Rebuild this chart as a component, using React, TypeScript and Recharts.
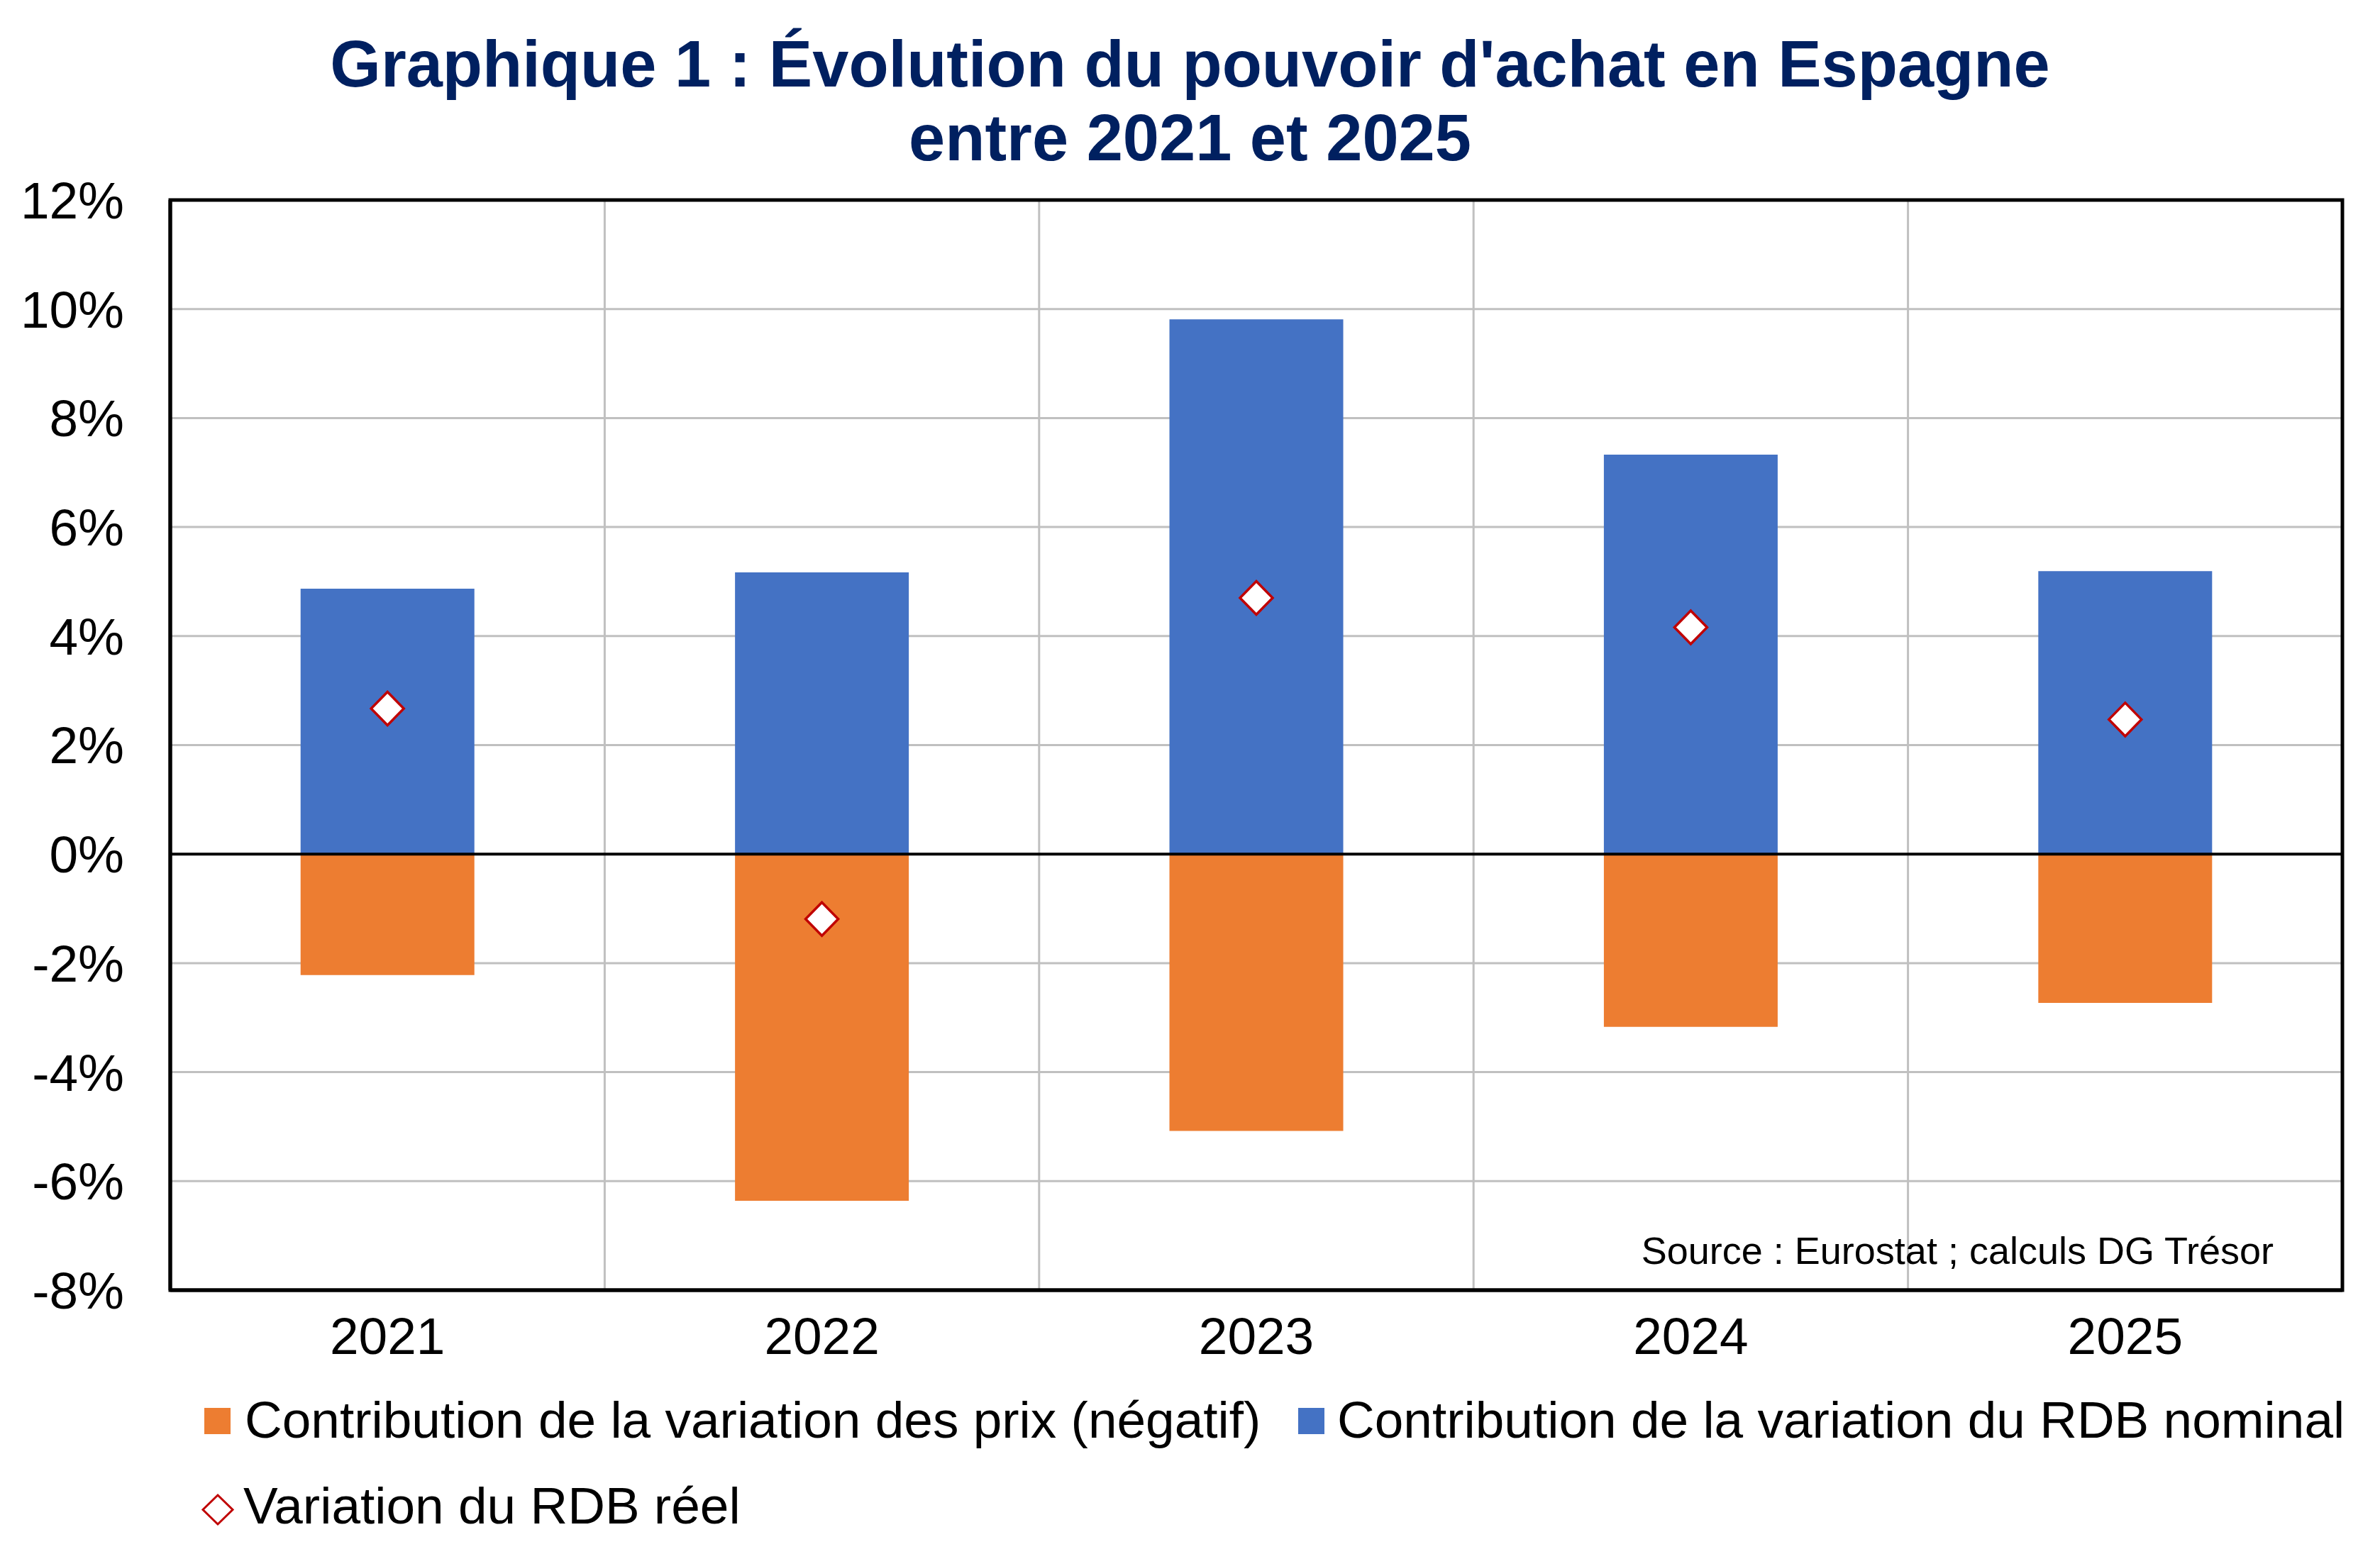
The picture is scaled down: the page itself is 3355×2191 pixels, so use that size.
import React from 'react';
import * as Recharts from 'recharts';
import {
  ComposedChart,
  Bar,
  Line,
  XAxis,
  YAxis,
  CartesianGrid,
  ReferenceLine,
} from 'recharts';

// Données (en %)
const years = ['2021', '2022', '2023', '2024', '2025'];
const prixContribution = [-2.22, -6.36, -5.08, -3.17, -2.73];
const rdbNominalContribution = [4.87, 5.17, 9.81, 7.33, 5.19];
const rdbReelVariation = [2.67, -1.19, 4.7, 4.16, 2.47];
const yTicks = [-8, -6, -4, -2, 0, 2, 4, 6, 8, 10, 12];

const titleLines = [
  "Graphique 1 : Évolution du pouvoir d'achat en Espagne",
  'entre 2021 et 2025',
];
const sourceText = 'Source : Eurostat ; calculs DG Trésor';
const legendLabels = {
  prix: 'Contribution de la variation des prix (négatif)',
  nominal: 'Contribution de la variation du RDB nominal',
  reel: 'Variation du RDB réel',
};

const COLORS = {
  prix: '#ED7D31',
  nominal: '#4472C4',
  diamondStroke: '#C00000',
  title: '#002060',
  grid: '#C0C0C0',
};

const FONT = "'Liberation Sans', Arial, sans-serif";
const W = 3355;
const H = 2191;

const data = years.map((year, i) => ({
  year,
  prix: prixContribution[i],
  nominal: rdbNominalContribution[i],
  reel: rdbReelVariation[i],
}));

// Hook giving the plot area rectangle (x, y, width, height)
const usePlotRect: () => any =
  (Recharts as any).usePlotArea ??
  (() => {
    const off = (Recharts as any).useOffset ? (Recharts as any).useOffset() : null;
    if (!off) return null;
    return { x: off.left, y: off.top, width: W - off.left - off.right, height: H - off.top - off.bottom };
  });

// Black frame around the plotting area
const PlotFrame = () => {
  const area = usePlotRect();
  if (!area) return null;
  return (
    <rect
      x={area.x}
      y={area.y}
      width={area.width}
      height={area.height}
      fill="none"
      stroke="#000"
      strokeWidth={5}
    />
  );
};

const Diamond = (props: any) => {
  const { cx, cy } = props;
  if (cx == null || cy == null) return null;
  const hw = 23;
  const hh = 23.5;
  return (
    <polygon
      points={`${cx},${cy - hh} ${cx + hw},${cy} ${cx},${cy + hh} ${cx - hw},${cy}`}
      fill="#FFFFFF"
      stroke={COLORS.diamondStroke}
      strokeWidth={3.5}
    />
  );
};

const Overlay = () => (
  <svg
    width={W}
    height={H}
    style={{ position: 'absolute', left: 0, top: 0, pointerEvents: 'none' }}
    fontFamily={FONT}
  >
    {/* Titre */}
    <text x={W / 2} y={122} textAnchor="middle" fontSize={92} fontWeight="bold" fill={COLORS.title}>
      {titleLines[0]}
    </text>
    <text x={W / 2} y={226} textAnchor="middle" fontSize={92} fontWeight="bold" fill={COLORS.title}>
      {titleLines[1]}
    </text>

    {/* Source */}
    <text x={3205} y={1782} textAnchor="end" fontSize={54} fill="#000">
      {sourceText}
    </text>

    {/* Légende */}
    <rect x={288} y={1985} width={37} height={37} fill={COLORS.prix} />
    <text x={345} y={2027} fontSize={73} fill="#000">
      {legendLabels.prix}
    </text>
    <rect x={1830} y={1985} width={37} height={37} fill={COLORS.nominal} />
    <text x={1885} y={2027} fontSize={73} fill="#000">
      {legendLabels.nominal}
    </text>
    <polygon
      points="307,2108 328,2128.5 307,2149 286,2128.5"
      fill="#FFFFFF"
      stroke={COLORS.diamondStroke}
      strokeWidth={3}
    />
    <text x={343} y={2148} fontSize={73} fill="#000">
      {legendLabels.reel}
    </text>
  </svg>
);

export default function App() {
  return (
    <div style={{ position: 'absolute', left: 0, top: 0, width: W, height: H, background: '#fff' }}>
      <ComposedChart
        width={W}
        height={H}
        data={data}
        stackOffset="sign"
        barCategoryGap="30%"
        margin={{ top: 282, right: 53, bottom: 272, left: 40 }}
      >
        <CartesianGrid
          stroke={COLORS.grid}
          strokeWidth={3}
          horizontal
          vertical
          verticalCoordinatesGenerator={({ offset }: any) =>
            years.slice(1).map((_, i) => offset.left + (offset.width * (i + 1)) / years.length)
          }
        />
        <XAxis
          dataKey="year"
          interval={0}
          tickSize={0}
          tickLine={false}
          tickMargin={38}
          height={100}
          axisLine={{ stroke: '#000', strokeWidth: 5 }}
          tick={{ fontSize: 73, fill: '#000', fontFamily: FONT }}
        />
        <YAxis
          domain={[-8, 12]}
          ticks={yTicks}
          interval={0}
          width={200}
          tickSize={0}
          tickLine={false}
          tickMargin={65}
          tickFormatter={(v: number) => `${v}%`}
          axisLine={{ stroke: '#000', strokeWidth: 5 }}
          tick={{ fontSize: 73, fill: '#000', fontFamily: FONT }}
        />
        <Bar dataKey="prix" stackId="s" fill={COLORS.prix} isAnimationActive={false} />
        <Bar dataKey="nominal" stackId="s" fill={COLORS.nominal} isAnimationActive={false} />
        <ReferenceLine y={0} stroke="#000" strokeWidth={4} />
        <Line
          dataKey="reel"
          stroke="none"
          isAnimationActive={false}
          activeDot={false}
          dot={(p: any) => <Diamond key={`d-${p.index}`} {...p} />}
        />
        <PlotFrame />
      </ComposedChart>
      <Overlay />
    </div>
  );
}
